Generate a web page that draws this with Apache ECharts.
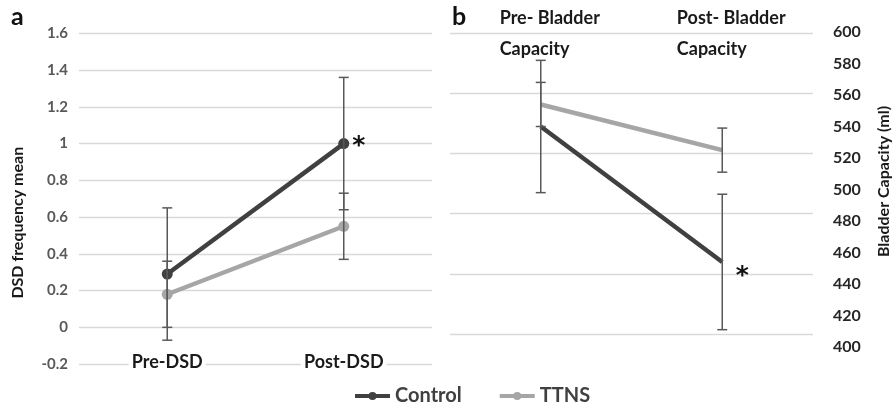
<!DOCTYPE html>
<html>
<head>
<meta charset="utf-8">
<script src="https://cdn.jsdelivr.net/npm/echarts@6/dist/echarts.min.js"></script>
<style>
html,body{margin:0;padding:0;background:#fff;}
#c{width:893px;height:409px;}
</style>
</head>
<body>
<div id="c"></div>
<script>
// ---- data ----
const seriesNames = ['Control', 'TTNS'];
// panel a
const dsdCategories = ['Pre-DSD', 'Post-DSD'];
const dsdControlMean = [0.29, 1.0];
const dsdControlSD = [0.36, 0.36];
const dsdTTNSMean = [0.18, 0.55];
const dsdTTNSSD = [0.18, 0.18];
const dsdControlSig = ['', '*'];
const dsdTicks = { min: -0.2, max: 1.6, step: 0.2 };
// panel b
const bcCategories = ['Pre- Bladder\nCapacity', 'Post- Bladder\nCapacity'];
const bcControlMean = [540, 454];
const bcControlSD = [42, 43];
const bcTTNSMean = [554, 525];
const bcTTNSSD = [14, 14];
const bcControlSig = ['', '*'];
const bcTicks = { min: 400, max: 600, step: 20 };
const bcGridTicks = { min: 400, max: 600, step: 40 };

const cControl = '#404040';
const cTTNS = '#a6a6a6';
const cErr = '#595959';
const FONT = 'Lato';

function errRender(params, api) {
  const i = api.value(0), m = api.value(1), s = api.value(2);
  const t = api.coord([i, m + s]);
  const b = api.coord([i, m - s]);
  const w = 5;
  const st = { stroke: cErr, lineWidth: 1.5 };
  return {
    type: 'group',
    children: [
      { type: 'line', shape: { x1: t[0], y1: t[1], x2: b[0], y2: b[1] }, style: st },
      { type: 'line', shape: { x1: t[0] - w, y1: t[1], x2: t[0] + w, y2: t[1] }, style: st },
      { type: 'line', shape: { x1: b[0] - w, y1: b[1], x2: b[0] + w, y2: b[1] }, style: st }
    ]
  };
}
function errData(means, sds) { return means.map((m, i) => [i, m, sds[i]]); }

const starLabel = (arr, dist, off) => ({
  show: true, position: 'right', distance: dist, offset: off,
  fontSize: 25, fontWeight: 'bold', color: '#111', fontFamily: 'DejaVu Sans',
  formatter: p => arr[p.dataIndex]
});

const chart = echarts.init(document.getElementById('c'), null, { renderer: 'canvas' });
chart.setOption({
  animation: false,
  textStyle: { fontFamily: FONT },
  graphic: [
    { type: 'text', left: 11, top: 4, style: { text: 'a', font: 'bold 25px ' + FONT, fill: '#111' } },
    { type: 'text', left: 452, top: 4, style: { text: 'b', font: 'bold 25px ' + FONT, fill: '#111' } }
  ],
  legend: {
    data: seriesNames,
    left: 348, top: 381,
    itemWidth: 35, itemHeight: 10, itemGap: 36,
    lineStyle: { width: 4 },
    textStyle: { fontSize: 20, fontWeight: 'bold', color: '#404040', fontFamily: FONT }
  },
  grid: [
    { left: 79, top: 33.3, width: 353, height: 330.8 },
    { left: 450, top: 32, width: 363, height: 315 },
    { left: 450, top: 33.3, width: 363, height: 300.7 }
  ],
  xAxis: [
    { gridIndex: 0, type: 'category', data: dsdCategories, z: 3,
      axisLine: { show: false }, axisTick: { show: false },
      axisLabel: { margin: -11, fontSize: 18, fontWeight: 'bold', color: '#1a1a1a',
        backgroundColor: '#fff', padding: [0, 3] } },
    { gridIndex: 1, type: 'category', data: bcCategories, position: 'top',
      axisLine: { show: false }, axisTick: { show: false },
      axisLabel: { margin: -1.5, verticalAlign: 'middle', padding: [0, 0, 0, 18],
        formatter: v => '{t|' + v.split('\n').join('}\n{t|') + '}',
        rich: { t: { fontSize: 18, fontWeight: 'bold', color: '#1a1a1a', lineHeight: 31, align: 'left', fontFamily: FONT } } } },
    { gridIndex: 2, type: 'category', data: bcCategories, show: false }
  ],
  yAxis: [
    { gridIndex: 0, type: 'value', min: dsdTicks.min, max: dsdTicks.max, interval: dsdTicks.step,
      axisLine: { show: false }, axisTick: { show: false },
      splitLine: { lineStyle: { color: '#d9d9d9', width: 1.3 } },
      axisLabel: { margin: 11, fontSize: 15, fontWeight: 'bold', color: '#595959' },
      name: 'DSD frequency mean', nameLocation: 'middle', nameRotate: 90, nameGap: 53,
      nameTextStyle: { fontSize: 16, fontWeight: 'bold', color: '#1a1a1a', padding: [0, 48, 0, 0] } },
    { gridIndex: 1, type: 'value', position: 'right', min: bcTicks.min, max: bcTicks.max, interval: bcTicks.step,
      axisLine: { show: false }, axisTick: { show: false }, splitLine: { show: false },
      axisLabel: { margin: 20, fontSize: 16, fontWeight: 'bold', color: '#262626' },
      name: 'Bladder Capacity (ml)', nameLocation: 'middle', nameRotate: 90, nameGap: 63,
      nameTextStyle: { fontSize: 16, fontWeight: 'bold', color: '#1a1a1a', padding: [0, 0, 0, 16] } },
    { gridIndex: 2, type: 'value', min: bcGridTicks.min, max: bcGridTicks.max, interval: bcGridTicks.step,
      axisLine: { show: false }, axisTick: { show: false }, axisLabel: { show: false },
      splitLine: { lineStyle: { color: '#d9d9d9', width: 1.3 } } }
  ],
  series: [
    { name: 'Control', type: 'line', xAxisIndex: 0, yAxisIndex: 0, data: dsdControlMean,
      color: cControl, lineStyle: { width: 4.5, color: cControl }, symbol: 'circle', symbolSize: 11,
      itemStyle: { color: cControl }, z: 3,
      label: starLabel(dsdControlSig, 3, [0, 3]) },
    { name: 'TTNS', type: 'line', xAxisIndex: 0, yAxisIndex: 0, data: dsdTTNSMean,
      color: cTTNS, lineStyle: { width: 4.5, color: cTTNS }, symbol: 'circle', symbolSize: 11,
      itemStyle: { color: cTTNS }, z: 2 },
    { name: 'errC_a', type: 'custom', xAxisIndex: 0, yAxisIndex: 0, renderItem: errRender,
      data: errData(dsdControlMean, dsdControlSD), encode: { x: 0, y: 1 }, z: 5 },
    { name: 'errT_a', type: 'custom', xAxisIndex: 0, yAxisIndex: 0, renderItem: errRender,
      data: errData(dsdTTNSMean, dsdTTNSSD), encode: { x: 0, y: 1 }, z: 5 },
    { name: 'Control', type: 'line', xAxisIndex: 1, yAxisIndex: 1, data: bcControlMean,
      color: cControl, lineStyle: { width: 4.5, color: cControl }, symbol: 'circle', symbolSize: 1,
      itemStyle: { color: cControl }, z: 3,
      label: starLabel(bcControlSig, 13, [0, 15]) },
    { name: 'TTNS', type: 'line', xAxisIndex: 1, yAxisIndex: 1, data: bcTTNSMean,
      color: cTTNS, lineStyle: { width: 4.5, color: cTTNS }, symbol: 'circle', symbolSize: 1,
      itemStyle: { color: cTTNS }, z: 2 },
    { name: 'errC_b', type: 'custom', xAxisIndex: 1, yAxisIndex: 1, renderItem: errRender,
      data: errData(bcControlMean, bcControlSD), encode: { x: 0, y: 1 }, z: 5 },
    { name: 'errT_b', type: 'custom', xAxisIndex: 1, yAxisIndex: 1, renderItem: errRender,
      data: errData(bcTTNSMean, bcTTNSSD), encode: { x: 0, y: 1 }, z: 5 }
  ]
});
</script>
</body>
</html>
